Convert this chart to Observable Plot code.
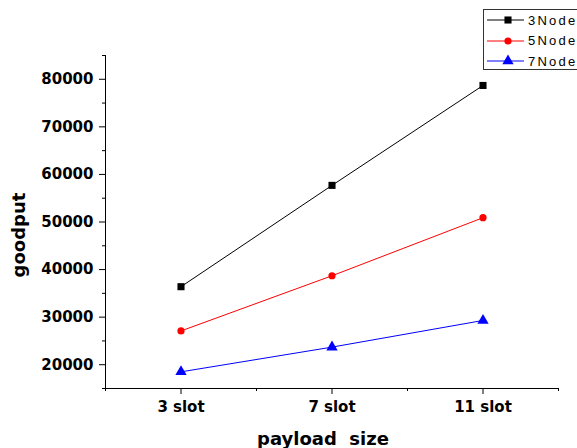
<!DOCTYPE html>
<html>
<head>
<meta charset="utf-8">
<script src="https://cdn.jsdelivr.net/npm/d3@7"></script>
<script src="https://cdn.jsdelivr.net/npm/@observablehq/plot@0.6"></script>
<style>
  html, body { margin: 0; padding: 0; background: #fff; overflow: hidden; }
  #wrap { position: relative; width: 577px; height: 448px; overflow: hidden; }
  .ttl { position: absolute; font-family: "DejaVu Sans", sans-serif; font-weight: bold; font-size: 18px; color: #000; white-space: pre; }
  #legend { position: absolute; left: 483px; top: 9px; width: 110px; height: 61px; border: 1px solid #333; box-sizing: border-box; background: #fff; }
  .lrow { position: absolute; left: 0; height: 20px; display: flex; align-items: center; }
  .lrow span { font-family: "Liberation Sans", Arial, sans-serif; font-size: 13px; letter-spacing: 2.2px; color: #000; margin-left: 2px; }
</style>
</head>
<body>
<div id="wrap"></div>
<script>
const slots = ["3 slot", "7 slot", "11 slot"];
const series = ["3Node", "5Node", "7Node"];
const node3 = [36400, 57700, 78700];
const node5 = [27100, 38700, 50900];
const node7 = [18500, 23700, 29300];
const yTicks = [20000, 30000, 40000, 50000, 60000, 70000, 80000];
const yMinorTicks = [15000, 25000, 35000, 45000, 55000, 65000, 75000, 85000];
const colors = ["#000000", "#ff0000", "#0000ff"];
const symbols = ["square", "circle", "triangle"];
const radii = [4, 3.6, 4.2];

const values = [node3, node5, node7];
const rows = series.flatMap((s, k) => values[k].map((v, i) => ({s, i, v})));

const xTicks = slots.map((_, i) => i);
const xMinor = [-0.5, 0.5, 1.5, 2.5];

const chart = Plot.plot({
  width: 577,
  height: 448,
  marginLeft: 105,
  marginRight: 19,
  marginTop: 55,
  marginBottom: 60,
  style: {fontFamily: "DejaVu Sans, sans-serif", fontSize: "15px", fontWeight: "bold", color: "#000", background: "#fff"},
  x: {type: "linear", domain: [-0.5, 2.5]},
  y: {domain: [15000, 85000]},
  color: {domain: series, range: colors},
  symbol: {domain: series, range: symbols},
  marks: [
    Plot.axisX({ticks: xTicks, tickSize: 6, tickPadding: 7, tickFormat: i => slots[i], label: null, stroke: "#000"}),
    Plot.axisX({ticks: xMinor, tickSize: 3, tickFormat: () => "", label: null, stroke: "#000"}),
    Plot.axisY({ticks: yTicks, tickSize: 6, tickPadding: 6, tickFormat: d => String(d), label: null, stroke: "#000"}),
    Plot.axisY({ticks: yMinorTicks, tickSize: 3, tickFormat: () => "", label: null, stroke: "#000"}),
    Plot.ruleX([-0.5], {stroke: "#000"}),
    Plot.ruleY([15000], {stroke: "#000"}),
    Plot.line(rows, {x: "i", y: "v", z: "s", stroke: "s", strokeWidth: 1}),
    ...series.map((s, k) => Plot.dot(rows.filter(d => d.s === s), {x: "i", y: "v", fill: "s", symbol: "s", r: radii[k], stroke: "none"}))
  ]
});

const wrap = document.getElementById("wrap");
wrap.appendChild(chart);

// Axis titles
const yt = document.createElement("div");
yt.className = "ttl";
yt.textContent = "goodput";
yt.style.left = "18px";
yt.style.top = "235px";
yt.style.transform = "translate(-50%, -50%) rotate(-90deg)";
wrap.appendChild(yt);

const xt = document.createElement("div");
xt.className = "ttl";
xt.textContent = "payload  size";
xt.style.left = "323px";
xt.style.top = "438px";
xt.style.transform = "translate(-50%, -50%)";
wrap.appendChild(xt);

// Legend
const legend = document.createElement("div");
legend.id = "legend";
const symMap = {square: d3.symbolSquare, circle: d3.symbolCircle, triangle: d3.symbolTriangle};
series.forEach((s, k) => {
  const row = document.createElement("div");
  row.className = "lrow";
  row.style.top = (k * 20.5) + "px";
  const svg = d3.create("svg").attr("width", 42).attr("height", 20);
  svg.append("line").attr("x1", 3).attr("x2", 40).attr("y1", 10).attr("y2", 10).attr("stroke", colors[k]).attr("stroke-width", 1);
  svg.append("path").attr("transform", "translate(24,10)")
    .attr("d", d3.symbol(symMap[symbols[k]], Math.PI * radii[k] * radii[k])())
    .attr("fill", colors[k]);
  row.appendChild(svg.node());
  const t = document.createElement("span");
  t.textContent = s;
  row.appendChild(t);
  legend.appendChild(row);
});
wrap.appendChild(legend);
</script>
</body>
</html>
